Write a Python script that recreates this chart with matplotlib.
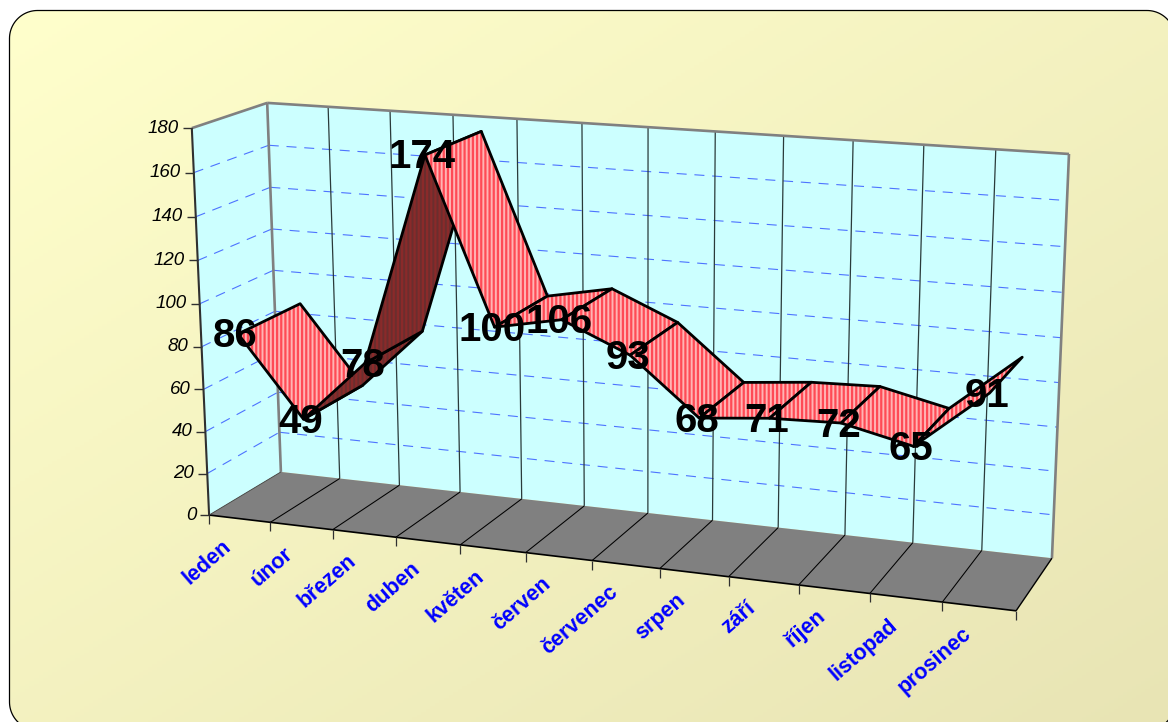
import numpy as np
import matplotlib
matplotlib.use("Agg")
import matplotlib.pyplot as plt
from matplotlib.patches import Polygon, PathPatch
from matplotlib.path import Path

months = ["leden", "únor", "březen", "duben", "květen", "červen", "červenec",
          "srpen", "září", "říjen", "listopad", "prosinec"]
values = [86, 49, 78, 174, 100, 106, 93, 68, 71, 72, 65, 91]
y_ticks = [0, 20, 40, 60, 80, 100, 120, 140, 160, 180]

W, H, DPI = 1168, 722, 100
Y_MAX = y_ticks[-1]
N = len(months)
Z0, Z1 = 0.08, 0.94   # ribbon depth range

# projection of the 3D box (category, value, depth) onto the page, from its corners
anchors = [((0, 0, 0), (209, 515)), ((0, Y_MAX, 0), (192, 128)),
           ((0, 0, 1), (281, 472)), ((0, Y_MAX, 1), (267, 103)),
           ((N, 0, 1), (1052, 558)), ((N, Y_MAX, 1), (1069, 154)),
           ((N, 0, 0), (1016, 611))]
rows = []
for (a, b, c), (u, v) in anchors:
    p = [a / N, b / Y_MAX, c, 1]
    rows.append(p + [0, 0, 0, 0] + [-u * q for q in p])
    rows.append([0, 0, 0, 0] + p + [-v * q for q in p])
M = np.linalg.svd(np.array(rows, float))[2][-1].reshape(3, 4)


def proj(x, y, z):
    r = M @ np.array([x / N, y / Y_MAX, z, 1.0])
    return r[0] / r[2], r[1] / r[2]


plt.rcParams["font.family"] = ["Liberation Sans", "DejaVu Sans"]
plt.rcParams["hatch.linewidth"] = 1.6
fig = plt.figure(figsize=(W / DPI, H / DPI), dpi=DPI, facecolor="white")
ax = fig.add_axes([0, 0, 1, 1])
ax.set_xlim(0, W)
ax.set_ylim(H, 0)
ax.axis("off")


def rounded_rect(x0, y0, x1, y1, r, n=24):
    pts = []
    corners = [(x1 - r, y0 + r, -90), (x1 - r, y1 - r, 0), (x0 + r, y1 - r, 90), (x0 + r, y0 + r, 180)]
    for cx, cy, start in corners:
        ang = np.radians(np.linspace(start, start + 90, n))
        pts += list(zip(cx + r * np.cos(ang), cy + r * np.sin(ang)))
    pts.append(pts[0])
    return Path(pts, closed=True)


# rounded page background with diagonal gradient
gx, gy = np.meshgrid(np.linspace(0, 1, 256), np.linspace(0, 1, 256))
t = (gx + gy)[..., None] / 2
rgb = (1 - t) * np.array([255, 255, 204]) + t * np.array([232, 228, 180])
img = ax.imshow(rgb.astype(np.uint8), extent=(9, 1175, 730, 10), aspect="auto", zorder=0,
                interpolation="bilinear")
box = PathPatch(rounded_rect(9.5, 10.5, 1175, 730, 28), fc="none", ec="black", lw=0.9, zorder=1)
ax.add_patch(box)
img.set_clip_path(box)
ax.set_xlim(0, W)
ax.set_ylim(H, 0)

# walls and floor
ax.add_patch(Polygon([proj(0, 0, 0), proj(0, Y_MAX, 0), proj(0, Y_MAX, 1), proj(0, 0, 1)],
                     fc="#CCFFFF", ec="none", zorder=2))
ax.add_patch(Polygon([proj(0, 0, 1), proj(0, Y_MAX, 1), proj(N, Y_MAX, 1), proj(N, 0, 1)],
                     fc="#CCFFFF", ec="none", zorder=2))
ax.add_patch(Polygon([proj(0, 0, 0), proj(0, 0, 1), proj(N, 0, 1), proj(N, 0, 0)],
                     fc="#808080", ec="none", zorder=2))


def seg(p, q, **kw):
    ax.plot([p[0], q[0]], [p[1], q[1]], solid_capstyle="butt", **kw)


# value gridlines
for v in y_ticks[1:-1]:
    grid = dict(color="#4D73FF", lw=0.8, dashes=(9, 7), zorder=3)
    seg(proj(0, v, 0), proj(0, v, 1), **grid)
    seg(proj(0, v, 1), proj(N, v, 1), **grid)

# category gridlines on back wall and floor
for i in range(1, N):
    seg(proj(i, 0, 1), proj(i, Y_MAX, 1), color="#2A3A3A", lw=0.9, zorder=3)
for i in range(1, N):
    seg(proj(i, 0, 0), proj(i, 0, 1), color="black", lw=0.75, zorder=3)

# frame
frame = dict(color="#808080", lw=1.9, zorder=4)
seg(proj(0, 0, 1), proj(0, Y_MAX, 1), **frame)
seg(proj(0, Y_MAX, 0), proj(0, Y_MAX, 1), **frame)
seg(proj(0, Y_MAX, 1), proj(N, Y_MAX, 1), **frame)
seg(proj(N, Y_MAX, 1), proj(N, 0, 1), **frame)
seg(proj(0, 0, 0), proj(0, Y_MAX, 0), color="#303030", lw=1.5, zorder=4)
seg(proj(0, 0, 0), proj(N, 0, 0), color="black", lw=1.2, zorder=4)
seg(proj(N, 0, 0), proj(N, 0, 1), color="black", lw=1.0, zorder=4)
seg(proj(0, 0, 0), proj(0, 0, 1), color="#404040", lw=0.6, zorder=4)

# ticks and tick labels
for v in y_ticks:
    px, py = proj(0, v, 0)
    seg((px - 9, py), (px, py), color="#303030", lw=1.0, zorder=4)
    ax.text(px - 13, py, str(v), ha="right", va="center", fontsize=13.5, style="italic",
            color="black", zorder=6)
for i in range(N + 1):
    px, py = proj(i, 0, 0)
    seg((px, py), (px, py + 9), color="#303030", lw=0.9, zorder=4)
for i, name in enumerate(months):
    px, py = proj(i + 0.5, 0, 0)
    ax.text(px - 11, py + 25, name, ha="right", va="center", rotation=41, rotation_mode="anchor",
            fontsize=15.5, fontweight="bold", color="#0000FF", zorder=6)

# ribbon: one striped quad per month-to-month step, shaded when its underside shows
for i in range(N - 1):
    a = proj(i + 0.5, values[i], Z0)
    b = proj(i + 1.5, values[i + 1], Z0)
    c = proj(i + 1.5, values[i + 1], Z1)
    d = proj(i + 0.5, values[i], Z1)
    q = np.array([a, b, c, d])
    area = 0.5 * np.sum(q[:, 0] * np.roll(q[:, 1], -1) - np.roll(q[:, 0], -1) * q[:, 1])
    under = area > 0
    zo = 5 + i * 0.01
    ax.add_patch(Polygon(q, fc="#6B2E2E" if under else "#FFB4B4",
                         ec="#8A2A2A" if under else "#FF4A55",
                         hatch="||||", lw=0, zorder=zo))
    ax.add_patch(Polygon(q, fc="none", ec="black", lw=2.0, joinstyle="round", zorder=zo + 0.001))

# data labels
for i, v in enumerate(values):
    px, py = proj(i + 0.5, v, Z0)
    ax.text(px - 2.5, py + 2.5, str(v), ha="center", va="center", fontsize=29, fontweight="bold",
            color="black", zorder=7)

fig.savefig("out.png", dpi=DPI)
